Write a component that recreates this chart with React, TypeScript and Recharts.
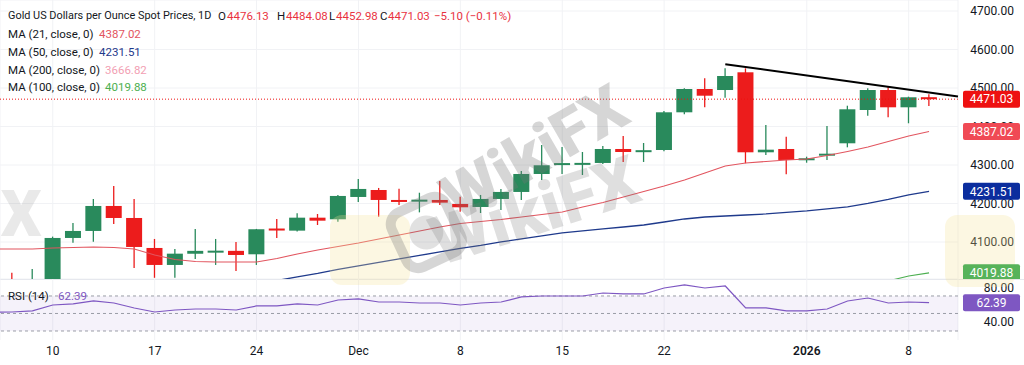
import {
  Bar,
  CartesianGrid,
  ComposedChart,
  Line,
  ReferenceArea,
  ReferenceLine,
  XAxis,
  YAxis,
} from 'recharts';

// one row per trading day, first day sits just off the left edge
const dates = [
  'Nov 5', 'Nov 6', 'Nov 7', 'Nov 10', 'Nov 11', 'Nov 12', 'Nov 13', 'Nov 14',
  'Nov 17', 'Nov 18', 'Nov 19', 'Nov 20', 'Nov 21', 'Nov 24', 'Nov 25', 'Nov 26',
  'Nov 27', 'Nov 28', 'Dec 1', 'Dec 2', 'Dec 3', 'Dec 4', 'Dec 5', 'Dec 8',
  'Dec 9', 'Dec 10', 'Dec 11', 'Dec 12', 'Dec 15', 'Dec 16', 'Dec 17', 'Dec 18',
  'Dec 19', 'Dec 22', 'Dec 23', 'Dec 24', 'Dec 26', 'Dec 29', 'Dec 30', 'Dec 31',
  'Jan 1', 'Jan 2', 'Jan 5', 'Jan 6', 'Jan 7', 'Jan 8', 'Jan 9',
];

const open = [
  null, 3990, 3977, 3998, 4110.5, 4128.7, 4193.6, 4162.4, 4084.5, 4040.4, 4069.5, 4076,
  4077, 4068.1, 4135, 4129.5, 4163.2, 4159, 4217, 4235.1, 4209.2, 4207, 4209.2, 4198.8,
  4191, 4211.8, 4230, 4276.7, 4302, 4303, 4305.3, 4341.6, 4336, 4339, 4436.9, 4497.4,
  4494.8, 4540.8, 4333, 4341.6, 4313.6, 4325, 4356.4, 4442.9, 4494.8, 4449.9, 4476.13,
];
const high = [
  null, 4020, 4030, 4114, 4149.4, 4211.8, 4245.5, 4211.8, 4107.9, 4081.9, 4133.9, 4107.9,
  4100.1, 4134, 4160, 4175, 4172.8, 4222, 4263.7, 4240.4, 4238, 4228, 4258.5, 4217.7,
  4222.2, 4237.8, 4284.5, 4352, 4346.8, 4333.8, 4349.4, 4375.4, 4357.2, 4440, 4499.3, 4525.2,
  4551.2, 4551.2, 4404, 4373.6, 4321.6, 4401.4, 4454, 4499.3, 4503.4, 4477.5, 4484.08,
];
const low = [
  null, 3965, 3968, 3990, 4098, 4100.9, 4146.8, 4032.6, 4007, 4007, 4055.9, 4040.4,
  4024.8, 4040.4, 4110.5, 4127, 4144.2, 4152.9, 4204, 4165.8, 4196.2, 4177, 4196.2, 4178.8,
  4175.4, 4183.2, 4209.2, 4261.1, 4276.7, 4274, 4302.7, 4307.9, 4307.9, 4336, 4431.7, 4449.9,
  4474.8, 4304.5, 4326, 4275.9, 4306, 4313, 4346, 4428, 4424, 4408.4, 4452.98,
];
const close = [
  null, 3978, 4002, 4110.5, 4128.7, 4193.6, 4162.4, 4087.1, 4040.4, 4069.7, 4077, 4077.5,
  4066.3, 4133.1, 4132, 4163.2, 4155.4, 4219.6, 4237.8, 4209.2, 4204.9, 4210, 4202.2, 4190.2,
  4211.8, 4230, 4276.7, 4299.3, 4305, 4305.5, 4341.6, 4333.8, 4338.5, 4436.9, 4497.4, 4480,
  4531.2, 4333, 4339.8, 4313.1, 4317.5, 4329.4, 4444.7, 4494.8, 4449.9, 4475.9, 4471.03,
];

const ma21 = [
  4081.9, 4081.9, 4081.9, 4084.5, 4085.8, 4087.1, 4085.8, 4081.9, 4066.3, 4054.6, 4049.4, 4048.1,
  4048.1, 4048.1, 4057.2, 4068.9, 4079.3, 4088.4, 4097.5, 4107.9, 4118.3, 4128.7, 4139.0, 4148.1,
  4153.3, 4158.5, 4165.0, 4171.5, 4178.0, 4191.0, 4202.7, 4217.0, 4231.3, 4245.5, 4261.1, 4279.3,
  4297.5, 4305.3, 4309.2, 4313.1, 4315.7, 4324.8, 4335.2, 4346.8, 4361.1, 4375.4, 4387.02,
];
const ma50 = [
  null, null, null, null, null, null, null, null, null, null, null, null, null,
  3991.0, 4000.1, 4009.2, 4018.3, 4028.7, 4037.8, 4046.9, 4055.9, 4065.0, 4074.1, 4083.2,
  4091.0, 4100.1, 4107.9, 4115.7, 4123.5, 4128.7, 4133.9, 4139.0, 4144.2, 4152.0, 4159.8, 4165.0,
  4167.6, 4170.2, 4172.8, 4176.7, 4180.6, 4185.8, 4191.0, 4200.1, 4210.5, 4222.2, 4231.51,
];
const ma100 = [
  null, null, null, null, null, null, null, null, null, null, null, null,
  null, null, null, null, null, null, null, null, null, null, null, null,
  null, null, null, null, null, null, null, null, null, null, null, null,
  null, null, null, null, null, null, null, null, 3998.8, 4011.8, 4019.88,
];
const rsi = [
  51.5, 51.7, 52.9, 59.7, 60.9, 64.3, 62.0, 56.3, 51.7, 54.0, 55.1, 55.1,
  54.0, 58.6, 58.6, 60.9, 59.7, 65.4, 66.6, 63.1, 63.1, 62.0, 62.0, 59.7,
  62.0, 63.1, 68.9, 70.0, 70.0, 70.0, 73.4, 72.3, 72.3, 79.1, 82.6, 79.1,
  81.4, 56.3, 56.3, 52.9, 52.9, 55.1, 64.3, 67.7, 62.0, 63.1, 62.39,
];

const xTickIdx = [3, 8, 13, 18, 23, 28, 33, 40, 45];
const xTickText = ['10', '17', '24', 'Dec', '8', '15', '22', '2026', '8'];
const priceTicks = [4100, 4200, 4300, 4400, 4500, 4600, 4700];
const rsiTicks = [40, 80];
const rsiBands = [70, 50, 30];
const trendLine = [
  { i: 36, price: 4562 },
  { i: 47.42, price: 4478 },
];

const xDomain = [0.41, 47.42];
const priceDomain = [4003.9, 4728.6];
const rsiDomain = [19.7, 89.4];

const palette = {
  text: '#131722',
  up: '#298a5c',
  down: '#ec1c1c',
  ma21: '#e2555f',
  ma50: '#1f3a8c',
  ma100: '#4caf50',
  ma200: '#f2a0b3',
  rsi: '#7e57c2',
  grid: '#f1f2f5',
  last: '#ee1111',
  ma21Box: '#f04a55',
  ma50Box: '#0b2d9e',
  ma100Box: '#57b35a',
  band: '#9a9da6',
};

const font = 'Roboto, "Noto Sans", sans-serif';

const rows = dates.map((date, i) => ({
  i,
  date,
  open: open[i],
  high: high[i],
  low: low[i],
  close: close[i],
  range: open[i] == null ? null : [low[i], high[i]],
  ma21: ma21[i],
  ma50: ma50[i],
  ma100: ma100[i],
  rsi: rsi[i],
}));

const last = rows.length - 1;

function Candle(props: any) {
  const { x, width, payload } = props;
  let { y, height } = props;
  if (payload.open == null || height == null) return null;
  if (height < 0) {
    y += height;
    height = -height;
  }
  const { open: o, close: c, high: h, low: l } = payload;
  const perUnit = height / (h - l);
  const yOf = (v: number) => y + (h - v) * perUnit;
  const color = c >= o ? palette.up : palette.down;
  const top = yOf(Math.max(o, c));
  const bottom = yOf(Math.min(o, c));
  const cx = x + width / 2;
  return (
    <g>
      <line x1={cx} x2={cx} y1={y} y2={y + height} stroke={color} strokeWidth={1.3} />
      <rect x={x} y={top} width={width} height={Math.max(bottom - top, 2)} fill={color} />
    </g>
  );
}

function PriceTick(props: any) {
  const { y, payload } = props;
  return (
    <text x={1014} y={y} dy={4} textAnchor="end" fill={palette.text} fontSize={12} fontFamily={font}>
      {payload.value.toFixed(2)}
    </text>
  );
}

function DateTick(props: any) {
  const { x, y, payload } = props;
  const k = xTickIdx.indexOf(payload.value);
  const text = xTickText[k];
  return (
    <text
      x={x}
      y={y}
      dy={7}
      textAnchor="middle"
      fill={palette.text}
      fontSize={12}
      fontWeight={text === '2026' ? 600 : 400}
      fontFamily={font}
    >
      {text}
    </text>
  );
}

function priceBox(color: string, value: number) {
  return (props: any) => {
    const vb = props.viewBox;
    const cy = vb.y;
    const left = vb.x + vb.width + 5;
    return (
      <g>
        <rect x={left} y={cy - 8.5} width={57} height={17} rx={2} fill={color} />
        <text
          x={left + 28.5}
          y={cy}
          dy={4.2}
          textAnchor="middle"
          fill="#ffffff"
          fontSize={12}
          fontFamily={font}
        >
          {value.toFixed(2)}
        </text>
      </g>
    );
  };
}

function Watermark() {
  const gray = 'rgba(120, 120, 120, 0.30)';
  return (
    <svg
      width={1024}
      height={365}
      style={{ position: 'absolute', left: 0, top: 0, pointerEvents: 'none' }}
    >
      <rect x={330} y={215} width={80} height={70} rx={12} fill="rgba(246, 226, 150, 0.28)" />
      <rect x={945} y={215} width={70} height={72} rx={12} fill="rgba(246, 226, 150, 0.28)" />
      <g transform="rotate(-25 425 232)">
        <rect x={396} y={203} width={60} height={60} rx={13} fill="none" stroke={gray} strokeWidth={10} />
        <circle cx={426} cy={233} r={17} fill="rgba(120, 120, 120, 0.22)" />
      </g>
      <text
        x={458}
        y={222}
        transform="rotate(-30 458 222)"
        fontSize={64}
        fontWeight={900}
        fontFamily={font}
        fill={gray}
      >
        WikiFX
      </text>
      <text
        x={440}
        y={266}
        transform="rotate(-18 440 266)"
        fontSize={68}
        fontWeight={900}
        fontFamily={font}
        fill="rgba(120, 120, 120, 0.24)"
      >
        WikiFX
      </text>
      <text
        x={-160}
        y={236}
        fontSize={64}
        fontWeight={900}
        fontFamily={font}
        fill="rgba(120, 120, 120, 0.16)"
      >
        WikiFX
      </text>
    </svg>
  );
}

const legendRow = (top: number, size: number) => ({
  position: 'absolute' as const,
  left: 8,
  top,
  height: 14,
  lineHeight: '14px',
  fontSize: size,
  fontFamily: font,
  color: palette.text,
  whiteSpace: 'nowrap' as const,
});

function at(left: number, color: string, text: string, size?: number) {
  return (
    <span style={{ position: 'absolute', left: left - 8, top: 0, color, fontSize: size }}>{text}</span>
  );
}

function Legend() {
  const red = '#e8323f';
  return (
    <>
      <div style={legendRow(9, 10.9)}>
        <span>Gold US Dollars per Ounce Spot Prices, 1D</span>
        {at(218, palette.text, 'O', 11.5)}
        {at(227, red, '4476.13', 11.5)}
        {at(277, palette.text, 'H', 11.5)}
        {at(286, red, '4484.08', 11.5)}
        {at(329, palette.text, 'L', 11.5)}
        {at(336, red, '4452.98', 11.5)}
        {at(380, palette.text, 'C', 11.5)}
        {at(388, red, '4471.03', 11.5)}
        {at(434, red, '−5.10 (−0.11%)', 11.5)}
      </div>
      <div style={legendRow(27, 11.5)}>
        MA (21, close, 0){at(99, palette.ma21, '4387.02')}
      </div>
      <div style={legendRow(45, 11.5)}>
        MA (50, close, 0){at(99, palette.ma50, '4231.51')}
      </div>
      <div style={legendRow(63, 11.5)}>
        MA (200, close, 0){at(105, palette.ma200, '3666.82')}
      </div>
      <div style={legendRow(80, 11.5)}>
        MA (100, close, 0){at(105, palette.ma100, '4019.88')}
      </div>
      <div style={legendRow(289, 11.5)}>
        RSI (14){at(58, palette.rsi, '62.39')}
      </div>
    </>
  );
}

export default function App() {
  return (
    <div
      style={{
        position: 'relative',
        width: 1024,
        height: 365,
        overflow: 'hidden',
        background: '#ffffff',
      }}
    >
      <style>{'body { margin: 0; }'}</style>
      <div style={{ position: 'absolute', left: 0, top: 0 }}>
        <ComposedChart width={1024} height={279} data={rows} margin={{ top: 0, right: 0, bottom: 0, left: 0 }}>
          <CartesianGrid stroke={palette.grid} />
          <XAxis dataKey="i" type="number" domain={xDomain} ticks={xTickIdx} allowDataOverflow hide />
          <YAxis
            orientation="right"
            width={66}
            domain={priceDomain}
            ticks={priceTicks}
            allowDataOverflow
            axisLine={false}
            tickLine={false}
            tick={PriceTick}
          />
          <ReferenceLine y={close[last] as number} stroke={palette.last} strokeDasharray="1 2" />
          <Line dataKey="ma50" stroke={palette.ma50} strokeWidth={1.3} dot={false} isAnimationActive={false} />
          <Line dataKey="ma100" stroke={palette.ma100} strokeWidth={1.1} dot={false} isAnimationActive={false} />
          <Line dataKey="ma21" stroke={palette.ma21} strokeWidth={1.1} dot={false} isAnimationActive={false} />
          <Bar dataKey="range" barSize={16} shape={Candle} isAnimationActive={false} />
          <ReferenceLine
            segment={trendLine.map((p) => ({ x: p.i, y: p.price }))}
            stroke="#000000"
            strokeWidth={2}
            ifOverflow="visible"
          />
        </ComposedChart>
      </div>
      <div style={{ position: 'absolute', left: 0, top: 279, width: 1024, borderTop: '1px solid #e6e8ee' }} />
      <div style={{ position: 'absolute', left: 0, top: 279 }}>
        <ComposedChart width={1024} height={86} data={rows} margin={{ top: 0, right: 0, bottom: 0, left: 0 }}>
          <CartesianGrid stroke={palette.grid} horizontal={false} />
          <XAxis
            dataKey="i"
            type="number"
            domain={xDomain}
            ticks={xTickIdx}
            interval={0}
            allowDataOverflow
            axisLine={false}
            tickLine={false}
            height={25}
            tick={DateTick}
          />
          <YAxis
            orientation="right"
            width={66}
            domain={rsiDomain}
            ticks={rsiTicks}
            allowDataOverflow
            axisLine={false}
            tickLine={false}
            tick={PriceTick}
          />
          <ReferenceArea y1={rsiBands[2]} y2={rsiBands[0]} fill={palette.rsi} fillOpacity={0.08} stroke="none" />
          {rsiBands.map((b) => (
            <ReferenceLine key={b} y={b} stroke={palette.band} strokeDasharray="3 3" />
          ))}
          <Line dataKey="rsi" stroke={palette.rsi} strokeWidth={1.2} dot={false} isAnimationActive={false} />
          <ReferenceLine y={rsi[last]} stroke="none" label={priceBox(palette.rsi, rsi[last])} />
        </ComposedChart>
      </div>
      <Watermark />
      {/* price scale badges sit on top of the axis labels, same scale as the price pane */}
      <div style={{ position: 'absolute', left: 0, top: 0 }}>
        <ComposedChart width={1024} height={279} data={rows} margin={{ top: 0, right: 0, bottom: 0, left: 0 }}>
          <XAxis dataKey="i" type="number" domain={xDomain} allowDataOverflow hide />
          <YAxis
            orientation="right"
            width={66}
            domain={priceDomain}
            allowDataOverflow
            axisLine={false}
            tickLine={false}
            tick={false}
          />
          <ReferenceLine y={close[last] as number} stroke="none" label={priceBox(palette.last, close[last] as number)} />
          <ReferenceLine y={ma21[last]} stroke="none" label={priceBox(palette.ma21Box, ma21[last])} />
          <ReferenceLine y={ma50[last] as number} stroke="none" label={priceBox(palette.ma50Box, ma50[last] as number)} />
          <ReferenceLine y={ma100[last] as number} stroke="none" label={priceBox(palette.ma100Box, ma100[last] as number)} />
        </ComposedChart>
      </div>
      <Legend />
    </div>
  );
}
